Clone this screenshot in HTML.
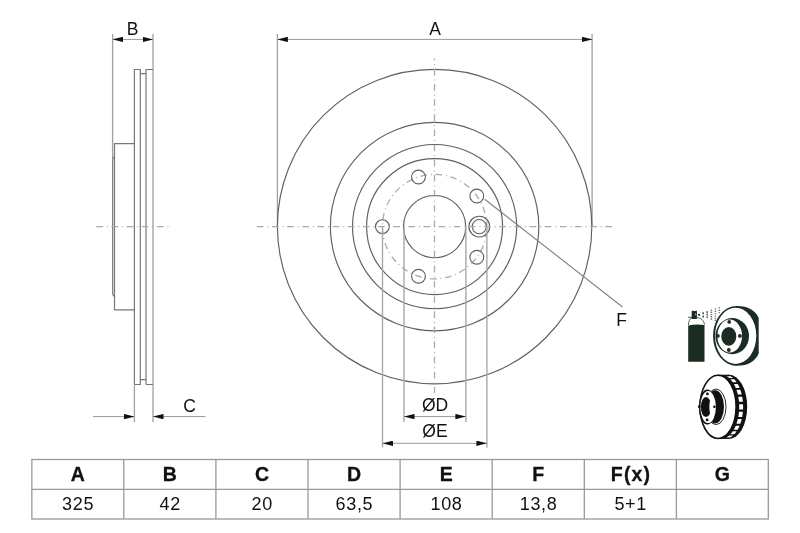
<!DOCTYPE html>
<html><head><meta charset="utf-8">
<style>
html,body{margin:0;padding:0;background:#fff;width:800px;height:533px;overflow:hidden}
svg{display:block;will-change:transform}
text{font-family:"Liberation Sans",sans-serif;fill:#111}
</style></head><body>
<svg width="800" height="533" viewBox="0 0 800 533">
<defs>
<marker id="ah" viewBox="0 0 10.5 5.4" refX="10.5" refY="2.7" markerWidth="10.5" markerHeight="5.4" markerUnits="userSpaceOnUse" orient="auto-start-reverse">
<path d="M0,0 L10.5,2.7 L0,5.4 Z" fill="#111"/>
</marker>
</defs>

<!-- ============ SIDE VIEW ============ -->
<g fill="none" stroke-width="1">
  <!-- B dimension -->
  <line x1="112.6" y1="34" x2="112.6" y2="158" stroke="#a0a0a0" stroke-width="1.3"/>
  <line x1="153" y1="34" x2="153" y2="422" stroke="#a0a0a0" stroke-width="1.3"/>
  <line x1="112.6" y1="39.4" x2="153" y2="39.4" stroke="#999" marker-start="url(#ah)" marker-end="url(#ah)"/>
  <!-- disc profile -->
  <path d="M134.4,384.5 V69.5 H140.3 V384.5 H134.4 M140.3,73.6 H146 M146,384.5 V69.5 H153 M140.3,379.7 H146 M146,384.5 H153" stroke="#777" stroke-width="1.2"/>
  <line x1="134.4" y1="384.5" x2="134.4" y2="422" stroke="#a0a0a0" stroke-width="1.3"/>
  <!-- hub -->
  <path d="M134.4,143.7 H114.5 V309.8 H134.4" stroke="#777" stroke-width="1.2"/>
  <path d="M114.5,156.5 L112.7,158.5 V294.5 L114.5,296.5" stroke="#777" stroke-width="1.2"/>
  <!-- C dimension -->
  <line x1="93" y1="416.6" x2="134.4" y2="416.6" stroke="#999" marker-end="url(#ah)"/>
  <line x1="205.5" y1="416.6" x2="153" y2="416.6" stroke="#999" marker-end="url(#ah)"/>
  <!-- center line -->
  <line x1="96.25" y1="226.7" x2="169.5" y2="226.7" stroke="#aaa" stroke-width="1.3" stroke-dasharray="6.6 4 1 3.55"/>
</g>
<text x="132.5" y="34.7" font-size="17.5" text-anchor="middle">B</text>
<text x="189.6" y="411.8" font-size="17.5" text-anchor="middle">C</text>

<!-- ============ FRONT VIEW ============ -->
<g fill="none" stroke-width="1">
  <!-- A dimension -->
  <line x1="277.4" y1="34" x2="277.4" y2="226.6" stroke="#a0a0a0" stroke-width="1.3"/>
  <line x1="592.1" y1="34" x2="592.1" y2="226.6" stroke="#a0a0a0" stroke-width="1.3"/>
  <line x1="277.4" y1="39.4" x2="592.1" y2="39.4" stroke="#999" marker-start="url(#ah)" marker-end="url(#ah)"/>
  <!-- circles -->
  <circle cx="434.6" cy="226.6" r="157.2" stroke="#606060" stroke-width="1.15"/>
  <circle cx="434.6" cy="226.6" r="104.2" stroke="#606060" stroke-width="1.15"/>
  <circle cx="434.6" cy="226.6" r="82.1" stroke="#606060" stroke-width="1.15"/>
  <circle cx="434.6" cy="226.6" r="68" stroke="#606060" stroke-width="1.15"/>
  <circle cx="434.6" cy="226.6" r="31.1" stroke="#606060" stroke-width="1.15"/>
  <circle cx="434.6" cy="226.6" r="52.2" stroke="#aaa" stroke-width="1.3" stroke-dasharray="6.6 4 1 3.55" stroke-dashoffset="11.05"/>
  <!-- bolt holes -->
  <circle cx="382.4" cy="226.6" r="6.9" stroke="#606060" stroke-width="1.15"/>
  <circle cx="418.5" cy="177" r="6.9" stroke="#606060" stroke-width="1.15"/>
  <circle cx="476.8" cy="196" r="6.9" stroke="#606060" stroke-width="1.15"/>
  <circle cx="476.8" cy="257.2" r="6.9" stroke="#606060" stroke-width="1.15"/>
  <circle cx="418.5" cy="276.2" r="6.9" stroke="#606060" stroke-width="1.15"/>
  <!-- F hole -->
  <circle cx="479.3" cy="226.6" r="10.4" stroke="#606060" stroke-width="1.15"/>
  <circle cx="479.3" cy="226.6" r="7.1" stroke="#606060" stroke-width="1.15"/>
  <!-- center lines -->
  <line x1="256.9" y1="226.7" x2="613" y2="226.7" stroke="#aaa" stroke-width="1.3" stroke-dasharray="6.6 4 1 3.55"/>
  <line x1="434.5" y1="58.6" x2="434.5" y2="393" stroke="#aaa" stroke-width="1.3" stroke-dasharray="6.6 4 1 3.55" stroke-dashoffset="4.85"/>
  <!-- F leader -->
  <line x1="484.7" y1="199.2" x2="622.5" y2="307" stroke="#808080" stroke-width="1.1"/>
  <!-- D / E dimension -->
  <line x1="404" y1="226.6" x2="404" y2="422" stroke="#a8a8a8" stroke-width="1.4"/>
  <line x1="465.9" y1="226.6" x2="465.9" y2="422" stroke="#a8a8a8" stroke-width="1.4"/>
  <line x1="404" y1="416.6" x2="465.9" y2="416.6" stroke="#999" marker-start="url(#ah)" marker-end="url(#ah)"/>
  <line x1="382.5" y1="226.6" x2="382.5" y2="447.4" stroke="#a8a8a8" stroke-width="1.4"/>
  <line x1="486.9" y1="226.6" x2="486.9" y2="447.4" stroke="#a8a8a8" stroke-width="1.4"/>
  <line x1="382.5" y1="443.3" x2="486.9" y2="443.3" stroke="#999" marker-start="url(#ah)" marker-end="url(#ah)"/>
</g>
<text x="435.1" y="34.7" font-size="17.5" text-anchor="middle">A</text>
<text x="621.7" y="326.1" font-size="17.5" text-anchor="middle">F</text>
<text x="435" y="410.5" font-size="17.5" text-anchor="middle">ØD</text>
<text x="435" y="436.8" font-size="17.5" text-anchor="middle">ØE</text>

<!-- ============ TABLE ============ -->
<g fill="none" stroke="#999" stroke-width="1.3">
  <rect x="31.85" y="459.5" width="736.45" height="59.5"/>
  <line x1="31.7" y1="489.3" x2="768.3" y2="489.3"/>
  <path d="M123.8,459.4V519 M215.9,459.4V519 M308,459.4V519 M400.1,459.4V519 M492.2,459.4V519 M584.3,459.4V519 M676.4,459.4V519"/>
</g>
<g text-anchor="middle">
  <g font-size="19.5" font-weight="bold" stroke="#111" stroke-width="0.3">
    <text x="77.75" y="481" letter-spacing="0">A</text>
    <text x="169.85" y="481" letter-spacing="0">B</text>
    <text x="261.95" y="481" letter-spacing="0">C</text>
    <text x="354.05" y="481" letter-spacing="0">D</text>
    <text x="446.15" y="481" letter-spacing="0">E</text>
    <text x="538.25" y="481" letter-spacing="0">F</text>
    <text x="631.05" y="481" letter-spacing="1.2">F(x)</text>
    <text x="722.45" y="481" letter-spacing="0">G</text>
  </g>
  <g font-size="18">
  <text x="78.10" y="510.3" letter-spacing="0.7">325</text>
  <text x="170.20" y="510.3" letter-spacing="0.7">42</text>
  <text x="262.30" y="510.3" letter-spacing="0.7">20</text>
  <text x="354.40" y="510.3" letter-spacing="0.7">63,5</text>
  <text x="446.50" y="510.3" letter-spacing="0.7">108</text>
  <text x="538.60" y="510.3" letter-spacing="0.7">13,8</text>
  <text x="630.70" y="510.3" letter-spacing="0.7">5+1</text>
  </g>
</g>

<!-- ============ PICTOGRAMS ============ -->
<g id="picto1" fill="#1b2c22">
  <!-- disc silhouette -->
  <path d="M737,306 C748,306 755.5,310.5 758.7,318 L758.7,353.5 C755.5,361 748,365.8 737,365.8 C723.8,365.8 713.1,352.5 713.1,335.9 C713.1,319.2 723.8,306 737,306 Z"/>
  <ellipse cx="735.65" cy="335.85" rx="20.65" ry="28.15" fill="#fff"/>
  <!-- hat -->
  <ellipse cx="732.25" cy="336.1" rx="16.75" ry="18.1"/>
  <ellipse cx="729.7" cy="336.1" rx="12.35" ry="16.5" fill="#fff"/>
  <ellipse cx="728.8" cy="336.4" rx="7.5" ry="9.4"/>
  <circle cx="729.2" cy="321.9" r="1.9"/>
  <circle cx="739.9" cy="335.9" r="1.9"/>
  <circle cx="728.8" cy="350" r="1.9"/>
  <circle cx="717.8" cy="335.9" r="1.95"/>
  <!-- spray can -->
  <path d="M688.2,325.5 Q696.3,323.8 704.5,325 L704.5,361.7 L688.2,361.7 Z"/>
  <path d="M688.1,317.3 H692 M688.4,325 C688.6,321.5 689.8,318.8 692,317.6 M696.8,317.6 C700.5,317.8 703.8,320 704.5,324.5" fill="none" stroke="#1b2c22" stroke-width="0.9" opacity="0.85"/>
  <rect x="691.7" y="310.4" width="5.2" height="8.7" rx="0.6"/>
  <ellipse cx="695.6" cy="314.3" rx="0.55" ry="0.9" fill="#cfd8d2"/>
  <ellipse cx="694.3" cy="310.3" rx="2.1" ry="0.75" fill="#fff"/>
  <!-- spray dots -->
  <circle cx="699.1" cy="314.8" r="1.15"/>
  <g>
    <rect x="702.4" y="312.3" width="1.6" height="2.0" rx="0.5" opacity="0.85"/>
    <rect x="702.4" y="315.6" width="1.6" height="2.0" rx="0.5" opacity="0.85"/>
    <rect x="706.4" y="311.0" width="1.6" height="1.9" rx="0.5" opacity="0.7"/>
    <rect x="706.4" y="313.6" width="1.6" height="1.9" rx="0.5" opacity="0.7"/>
    <rect x="706.4" y="316.2" width="1.6" height="1.9" rx="0.5" opacity="0.7"/>
    <rect x="710.5" y="309.4" width="1.7" height="1.4" rx="0.5" opacity="0.65"/>
    <rect x="710.5" y="311.6" width="1.7" height="1.4" rx="0.5" opacity="0.65"/>
    <rect x="710.5" y="313.9" width="1.7" height="1.4" rx="0.5" opacity="0.65"/>
    <rect x="710.5" y="316.1" width="1.7" height="1.4" rx="0.5" opacity="0.65"/>
    <rect x="710.5" y="318.3" width="1.7" height="1.4" rx="0.5" opacity="0.65"/>
    <rect x="714.6" y="308.2" width="1.6" height="1.3" rx="0.5" opacity="0.6"/>
    <rect x="714.6" y="310.6" width="1.6" height="1.3" rx="0.5" opacity="0.6"/>
    <rect x="714.6" y="313.0" width="1.6" height="1.3" rx="0.5" opacity="0.6"/>
    <rect x="714.6" y="315.4" width="1.6" height="1.3" rx="0.5" opacity="0.6"/>
    <rect x="714.6" y="317.8" width="1.6" height="1.3" rx="0.5" opacity="0.6"/>
    <rect x="714.6" y="319.6" width="1.6" height="1.3" rx="0.5" opacity="0.6"/>
    <rect x="718.4" y="307.0" width="1.7" height="1.3" rx="0.5" opacity="0.55"/>
    <rect x="718.4" y="309.6" width="1.7" height="1.3" rx="0.5" opacity="0.55"/>
    <rect x="718.4" y="312.0" width="1.7" height="1.3" rx="0.5" opacity="0.55"/>
  </g>
</g>
<g id="picto2" fill="#111">
  <!-- back silhouette / vented band -->
  <ellipse cx="729" cy="406.8" rx="18.2" ry="32.1"/>
  <rect x="717.9" y="374.7" width="11.1" height="64.2"/>
  <!-- vents -->
  <path fill="#fff" d="M726.4,376.2 L727.1,376.6 L727.8,377.0 L728.5,377.6 L729.2,378.1 L733.1,378.1 L732.4,377.6 L731.7,377.0 L731.0,376.6 L730.3,376.2Z M730.4,379.3 L731.0,380.0 L731.6,380.7 L732.2,381.5 L732.8,382.3 L736.7,382.3 L736.1,381.5 L735.5,380.7 L734.9,380.0 L734.2,379.3Z M733.8,383.9 L734.3,384.8 L734.8,385.8 L735.3,386.8 L735.7,387.9 L739.6,387.9 L739.1,386.8 L738.7,385.8 L738.2,384.8 L737.6,383.9Z M736.5,389.8 L736.8,391.0 L737.2,392.1 L737.5,393.3 L737.8,394.5 L741.7,394.5 L741.4,393.3 L741.1,392.1 L740.7,391.0 L740.3,389.8Z M738.3,396.7 L738.5,398.0 L738.7,399.3 L738.9,400.5 L739.0,401.8 L742.9,401.8 L742.7,400.5 L742.6,399.3 L742.4,398.0 L742.2,396.7Z M739.1,404.2 L739.2,405.5 L739.2,406.8 L739.2,408.1 L739.1,409.4 L743.0,409.4 L743.1,408.1 L743.1,406.8 L743.1,405.5 L743.0,404.2Z M739.0,411.8 L738.9,413.1 L738.7,414.3 L738.5,415.6 L738.3,416.9 L742.2,416.9 L742.4,415.6 L742.6,414.3 L742.7,413.1 L742.9,411.8Z M737.8,419.1 L737.5,420.3 L737.2,421.5 L736.8,422.6 L736.5,423.8 L740.3,423.8 L740.7,422.6 L741.1,421.5 L741.4,420.3 L741.7,419.1Z M735.7,425.7 L735.3,426.8 L734.8,427.8 L734.3,428.8 L733.8,429.7 L737.6,429.7 L738.2,428.8 L738.7,427.8 L739.1,426.8 L739.6,425.7Z M732.8,431.3 L732.2,432.1 L731.6,432.9 L731.0,433.6 L730.4,434.3 L734.2,434.3 L734.9,433.6 L735.5,432.9 L736.1,432.1 L736.7,431.3Z M729.2,435.5 L728.5,436.0 L727.8,436.6 L727.1,437.0 L726.4,437.4 L730.3,437.4 L731.0,437.0 L731.7,436.6 L732.4,436.0 L733.1,435.5Z"/>
  <!-- front face -->
  <ellipse cx="718.05" cy="406.85" rx="18.05" ry="31.65" fill="#fff" stroke="#111" stroke-width="1.6"/>
  <!-- hat -->
  <ellipse cx="716" cy="406.8" rx="10" ry="17.8" fill="#fff" stroke="#111" stroke-width="0.9"/>
  <ellipse cx="715.2" cy="406.8" rx="8.8" ry="16.6"/>
  <ellipse cx="707.25" cy="407.05" rx="8.45" ry="17.55"/>
  <ellipse cx="708.1" cy="407.05" rx="7.8" ry="16.05" fill="#fff"/>
  <ellipse cx="706" cy="407" rx="5.1" ry="10.1"/>
  <ellipse cx="710.6" cy="407" rx="1.2" ry="7.2" fill="#fff"/>
  <circle cx="707.4" cy="393.9" r="1.4"/>
  <circle cx="714.4" cy="406.7" r="1.3"/>
  <circle cx="707.1" cy="419.9" r="1.4"/>
  <circle cx="699.3" cy="406.7" r="1.4"/>
</g>
</svg>
</body></html>
